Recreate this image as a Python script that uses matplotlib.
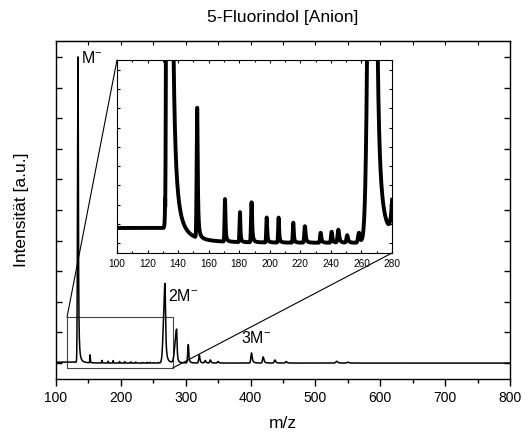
import numpy as np
import matplotlib.pyplot as plt
from matplotlib.patches import Rectangle, ConnectionPatch

plt.rcParams['font.family'] = ['Liberation Sans', 'DejaVu Sans']
plt.rcParams['mathtext.fontset'] = 'custom'
plt.rcParams['mathtext.rm'] = 'Liberation Sans'
plt.rcParams['mathtext.it'] = 'Liberation Sans'

# ===== DATA =====
# peak list: position (m/z), height (a.u., M- = 100), left gaussian sigma, right lorentz width
peak_mz = [134.0, 152.5, 170.7, 180.5, 188.1, 198.0, 205.8, 215.4, 223.0, 233.3,
           240.5, 244.9, 250.7, 258.4, 268.0, 286.0, 304.0, 321.0, 330.0, 338.0,
           350.0, 401.5, 419.5, 437.5, 455.0, 533.0, 550.0]
peak_height = [100.0, 2.6, 0.85, 0.6, 0.8, 0.5, 0.5, 0.4, 0.33, 0.2,
               0.22, 0.26, 0.15, 0.2, 26.0, 11.0, 6.0, 2.6, 0.8, 1.0,
               0.5, 3.3, 2.0, 1.0, 0.5, 0.6, 0.3]
peak_sigma_left = [0.78, 0.35, 0.3, 0.3, 0.35, 0.3, 0.3, 0.3, 0.4, 0.4,
                   0.4, 0.5, 0.5, 0.6, 2.2, 2.5, 0.9, 0.9, 0.9, 0.9,
                   1.0, 1.0, 1.0, 1.0, 1.2, 1.5, 1.5]
peak_gamma_right = [0.6, 0.4, 0.35, 0.3, 0.4, 0.35, 0.35, 0.35, 0.5, 0.5,
                    0.5, 0.6, 0.6, 0.6, 1.1, 0.8, 0.8, 1.0, 1.0, 1.0,
                    1.0, 1.2, 1.2, 1.2, 1.2, 1.5, 1.5]
# baseline sits a bit higher before the M- peak
step_mz = 131.5
step_level = 0.3

peak_labels = ['M$^{-}$', '2M$^{-}$', '3M$^{-}$']
label_x = [139, 272, 385]
label_y = [99.5, 22.0, 8.2]

zoom_box = (117, 280, -1.6, 15.0)   # x0, x1, y0, y1 in main axes

# ===== SPECTRUM =====
mz = np.arange(100, 800.01, 0.05)
inten = np.where(mz < step_mz, step_level, 0.0)
for c, h, sl, gr in zip(peak_mz, peak_height, peak_sigma_left, peak_gamma_right):
    d = mz - c
    left = h * np.exp(-d**2 / (2 * sl**2))
    right = h / (1 + (d / gr)**2)
    inten = inten + np.where(d < 0, left, right)

fig = plt.figure(figsize=(5.25, 4.34), dpi=100)
ax = fig.add_axes([56/525, 55/434, 454/525, 338/434])
ax.plot(mz, inten, color='black', lw=1.1)
ax.set_xlim(100, 800)
ax.set_ylim(-5.2, 105.2)
ax.set_xticks(np.arange(100, 801, 100))
ax.set_xticks(np.arange(150, 800, 100), minor=True)
ax.set_yticks(np.arange(0, 101, 10))
ax.set_yticklabels([])
ax.tick_params(axis='x', which='major', direction='out', length=5, width=1, labelsize=10)
ax.tick_params(axis='x', which='minor', direction='out', length=3, width=1)
ax.tick_params(axis='y', which='both', direction='in', length=4, width=1, left=True, right=True)
top = ax.secondary_xaxis('top')
top.set_xticks(np.arange(100, 801, 50))
top.tick_params(direction='in', length=3, labeltop=False)
for s in ax.spines.values():
    s.set_linewidth(1.0)

ax.set_xlabel('m/z', fontsize=12.5, labelpad=8)
ax.set_ylabel('Intensität [a.u.]', fontsize=12.5, labelpad=16)
ax.set_title('5-Fluorindol [Anion]', fontsize=12.5, pad=14)

for t, x, y in zip(peak_labels, label_x, label_y):
    ax.text(x, y, t, fontsize=11.5, ha='left', va='center')

x0, x1, y0, y1 = zoom_box
ax.add_patch(Rectangle((x0, y0), x1 - x0, y1 - y0, fill=False, ec='#444444', lw=0.8))

# ===== INSET =====
ins = fig.add_axes([117/525, 181/434, 275/525, 193/434])
ins.plot(mz, inten, color='black', lw=2.8)
ins.set_xlim(100, 280)
ins.set_ylim(-0.2, 3.66)
ins.set_xticks(np.arange(100, 281, 20))
ins.set_xticks(np.arange(110, 280, 20), minor=True)
ins.set_yticks(np.arange(0, 3.7, 0.385))
ins.set_yticklabels([])
ins.tick_params(which='both', direction='in', length=2.5, width=0.8,
                top=True, right=True, labelsize=7.3, pad=4)
ins.tick_params(which='minor', length=1.5)
for s in ins.spines.values():
    s.set_linewidth(0.8)

for xa, ya, xb, yb in [(x0, y1, 0, 1), (x1, y0, 1, 0)]:
    con = ConnectionPatch(xyA=(xa, ya), coordsA=ax.transData,
                          xyB=(xb, yb), coordsB=ins.transAxes,
                          color='black', lw=0.8)
    fig.add_artist(con)

plt.savefig('out.png', dpi=100)
